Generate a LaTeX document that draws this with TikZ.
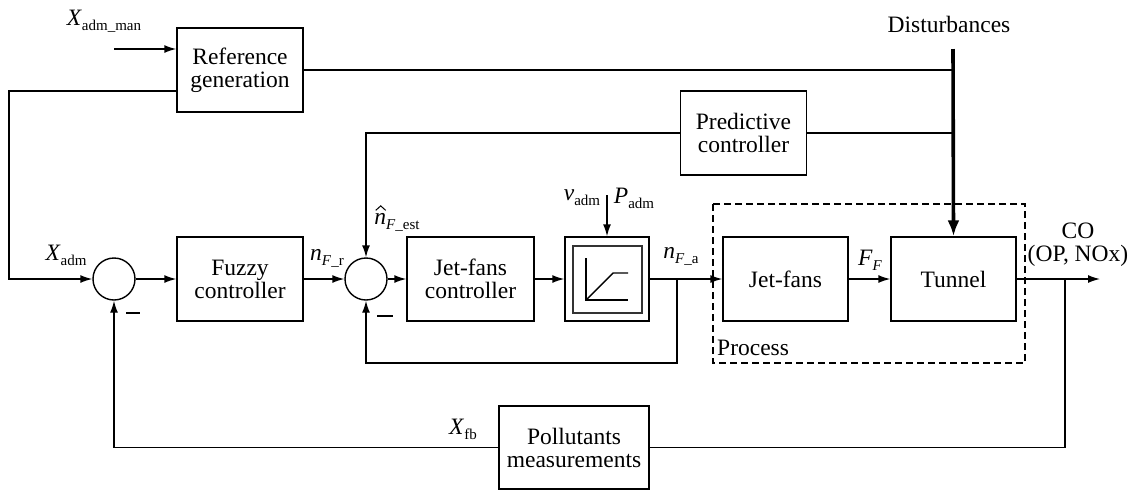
\documentclass[tikz,border=0pt]{standalone}
\usepackage{fontspec}
\setmainfont{Liberation Serif}
\usetikzlibrary{arrows.meta}
\newcommand\sbs[1]{\raisebox{-0.45ex}{\fontsize{15}{15}\selectfont #1}}
\begin{document}
\begin{tikzpicture}[x=1pt,y=-1pt,
  ln/.style={line width=1.4pt},
  box/.style={draw, ln, align=center, inner sep=0pt, font=\fontsize{23.5}{23}\selectfont},
  sumc/.style={draw, ln, circle, minimum size=42pt, inner sep=0pt},
  lbl/.style={inner sep=0pt, font=\fontsize{23.5}{23}\selectfont, align=center},
  arr/.style={ln, -{Latex[length=12pt,width=8pt]}},
  thk/.style={line width=3.6pt, -{Latex[length=16pt,width=12pt]}},
  minus/.style={line width=2.6pt}]
\useasboundingbox (0,0) rectangle (1135,491);
% blocks
\node[box, minimum width=126pt, minimum height=84pt] (ref) at (240,70) {Reference\\generation};
\node[box, minimum width=126pt, minimum height=84pt] (fuzzy) at (240,279) {Fuzzy\\controller};
\node[sumc] (s1) at (114,279) {};
\node[sumc] (s2) at (366,279) {};
\node[box, minimum width=127pt, minimum height=84pt] (jfc) at (470.5,279) {Jet-fans\\controller};
\node[box, minimum width=84pt, minimum height=84pt] (sat) at (607,279) {};
\draw[ln, black!80] (573,246) rectangle (642,313);
\draw[ln] (586,258) -- (586,300) -- (628,300);
\draw[ln] (586,300) -- (613,273) -- (628,273);
\node[box, minimum width=126pt, minimum height=84pt] (pred) at (743.5,133) {Predictive\\controller};
\node[box, minimum width=125pt, minimum height=84pt] (jf) at (785.5,279) {Jet-fans};
\node[box, minimum width=125pt, minimum height=84pt] (tun) at (953.5,279) {Tunnel};
\node[box, minimum width=150pt, minimum height=83pt] (pol) at (574,447.5) {Pollutants\\measurements};
\draw[ln, dash pattern=on 7pt off 4pt] (713,204) rectangle (1025,363);
% labels
\node[lbl] (lxman) at (104,21) {\textit{X}\sbs{adm\_man}};
\node[lbl] (lxadm) at (66,255) {\textit{X}\sbs{adm}};
\node[lbl] (lnfr) at (327,258) {\textit{n}\sbs{\textit{F}\_r}};
\node[lbl] (lnest) at (397,222) {\textit{n}\sbs{\textit{F}\_est}};
\draw[line width=1pt] ([xshift=1.5pt,yshift=2.5pt]lnest.north west) -- ([xshift=6.5pt,yshift=7pt]lnest.north west) -- ([xshift=11.5pt,yshift=2.5pt]lnest.north west);
\node[lbl] (lv) at (582,198) {\textit{v}\sbs{adm}};
\node[lbl] (lp) at (634,198) {\textit{P}\sbs{adm}};
\node[lbl] (lnfa) at (681,256) {\textit{n}\sbs{\textit{F}\_a}};
\node[lbl] (lff) at (870,260) {\textit{F}\sbs{\textit{F}}};
\node[lbl] (lco) at (1078,245) {CO\\(OP, NOx)};
\node[lbl] (ldist) at (949,24) {Disturbances};
\node[lbl, anchor=west] (lproc) at (717,348) {Process};
\node[lbl] (lxfb) at (463,429) {\textit{X}\sbs{fb}};
% coordinates
\coordinate (xin) at (114,49);
\coordinate (dtop) at (953,49);
\coordinate (dref) at (953,70);
\coordinate (lft) at (9,91);
\coordinate (ja) at (677,279);
\coordinate (jo) at (1065,279);
\coordinate (out) at (1100,279);
\coordinate (vp) at (607,195);
% connectors
\draw[arr] (xin) -- (xin -| ref.west);
\draw[ln] (ref.east |- dref) -- (dref);
\draw[arr] (ref.west |- lft) -- (lft) |- (s1.west);
\draw[arr] (s1.east) -- (fuzzy.west);
\draw[arr] (fuzzy.east) -- (s2.west);
\draw[arr] (s2.east) -- (jfc.west);
\draw[arr] (jfc.east) -- (sat.west);
\draw[arr] (sat.east) -- (jf.west);
\draw[arr] (ja) -- (ja |- 0,363) -| (s2.south);
\draw[arr] (pred.west) -| (s2.north);
\draw[ln] (pred.east) -- (pred.east -| dtop);
\draw[thk] (dtop) -- (tun.north);
\draw[arr] (jf.east) -- (tun.west);
\draw[arr] (tun.east) -- (out);
\draw[ln] (jo) |- (pol.east);
\draw[arr] (pol.west) -| (s1.south);
\draw[arr] (vp) -- (sat.north);
% minus signs
\draw[minus] (126,313) -- (140,313);
\draw[minus] (377,316) -- (393,316);
\end{tikzpicture}
\end{document}
